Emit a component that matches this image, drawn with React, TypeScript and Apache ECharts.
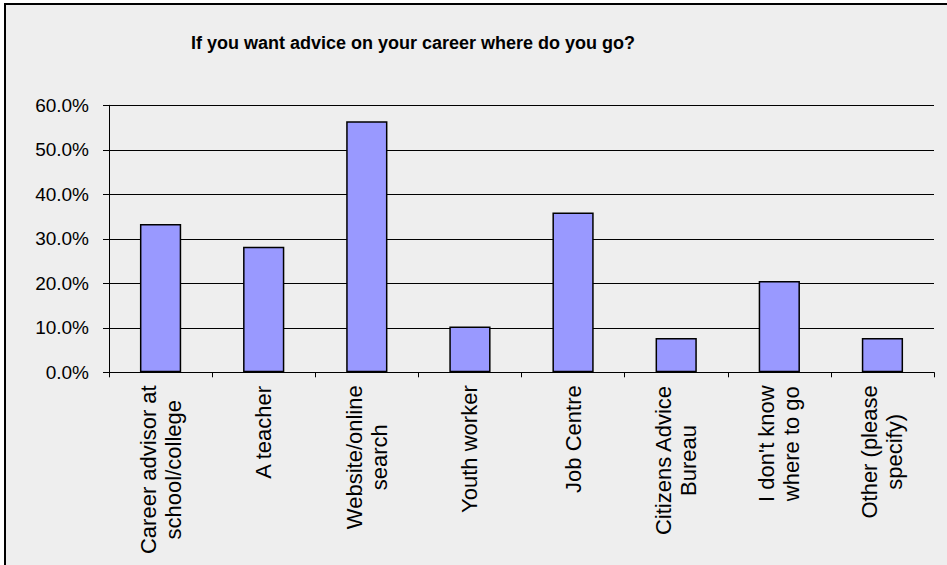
import React, { useEffect, useRef } from "react";
import * as echarts from "echarts";

const categories: string[] = [
  "Career advisor at\nschool/college",
  "A teacher",
  "Website/online\nsearch",
  "Youth worker",
  "Job Centre",
  "Citizens Advice\nBureau",
  "I don't know\nwhere to go",
  "Other (please\nspecify)",
];

const percentages: number[] = [33.3, 28.2, 56.4, 10.3, 35.9, 7.7, 20.5, 7.7];

const titleText = "If you want advice on your career where do you go?";

const FONT = "'Liberation Sans', Arial, sans-serif";

export default function App() {
  const ref = useRef<HTMLDivElement>(null);

  useEffect(() => {
    if (!ref.current) return;
    const chart = echarts.init(ref.current, undefined, { renderer: "svg" });
    chart.setOption({
      animation: false,
      backgroundColor: "transparent",
      title: {
        text: titleText,
        left: 186,
        top: 29,
        textStyle: {
          fontFamily: FONT,
          fontSize: 18,
          fontWeight: "bold",
          color: "#000",
        },
      },
      grid: {
        left: 109,
        right: 13,
        top: 105.3,
        bottom: 192.7,
        containLabel: false,
      },
      xAxis: {
        type: "category",
        data: categories,
        boundaryGap: true,
        axisLine: { show: true, lineStyle: { color: "#000", width: 1 } },
        axisTick: {
          show: true,
          length: 5,
          inside: false,
          lineStyle: { color: "#000", width: 1 },
        },
        splitLine: { show: false },
        axisLabel: {
          rotate: 90,
          margin: 13,
          interval: 0,
          color: "#000",
          fontFamily: FONT,
          fontSize: 22,
          lineHeight: 25,
          formatter: (v: string) =>
            v
              .split("\n")
              .map((l) => "{c|" + l + "}")
              .join("\n"),
          rich: {
            c: {
              align: "center",
              fontFamily: FONT,
              fontSize: 22,
              lineHeight: 25,
              color: "#000",
            },
          },
        },
      },
      yAxis: {
        type: "value",
        min: 0,
        max: 60,
        interval: 10,
        axisLine: { show: true, lineStyle: { color: "#000", width: 1 } },
        axisTick: {
          show: true,
          length: 6,
          inside: false,
          lineStyle: { color: "#000", width: 1 },
        },
        splitLine: { show: true, lineStyle: { color: "#000", width: 1 } },
        axisLabel: {
          margin: 20,
          color: "#000",
          fontFamily: FONT,
          fontSize: 19,
          padding: [5, 0, 0, 0],
          formatter: (v: number) => v.toFixed(1) + "%",
        },
      },
      series: [
        {
          type: "bar",
          data: percentages,
          barWidth: "40%",
          itemStyle: {
            color: "#9999FF",
            borderColor: "#000",
            borderWidth: 1.5,
          },
        },
      ],
    });
    return () => chart.dispose();
  }, []);

  return (
    <div
      style={{
        position: "fixed",
        left: 0,
        top: 0,
        width: 947,
        height: 565,
        background: "#fff",
        overflow: "hidden",
      }}
    >
      <div
        style={{
          position: "absolute",
          left: 4,
          top: 3,
          width: 960,
          height: 580,
          background: "#EEEEEE",
          borderLeft: "2px solid #000",
          borderTop: "2px solid #000",
        }}
      />
      <div
        ref={ref}
        style={{ position: "absolute", left: 0, top: 0, width: 947, height: 565 }}
      />
    </div>
  );
}
